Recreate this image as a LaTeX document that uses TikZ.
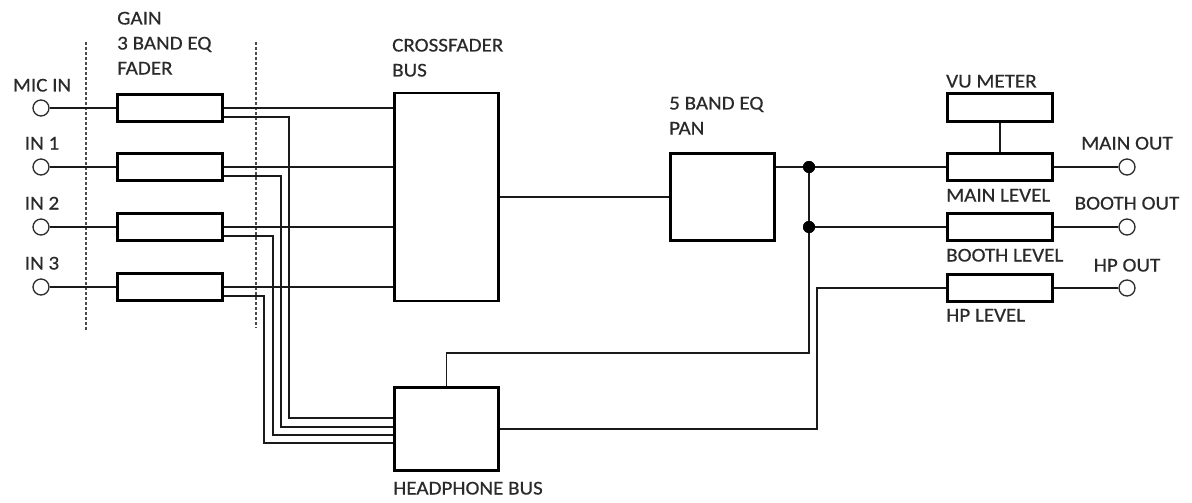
\documentclass[tikz,border=0pt]{standalone}
\usepackage{fontspec}
\setmainfont{Carlito}[FakeStretch=1.08,FakeBold=0.5]
\usetikzlibrary{calc}
\definecolor{txt}{HTML}{2A2A2A}
\definecolor{wire}{HTML}{1A1A1A}
\begin{document}
\begin{tikzpicture}[x=1pt,y=-1pt,
  blk/.style={draw=black,line width=2.8pt,fill=white,inner sep=0pt},
  gainbox/.style={blk,minimum width=105.5pt,minimum height=27.5pt},
  busbox/.style={blk,minimum width=104.5pt},
  lbl/.style={inner sep=0pt,text=txt,font=\fontsize{19.5pt}{23pt}\selectfont},
  wr/.style={draw=wire,line width=1.5pt},
  jack/.style={circle,draw=txt,line width=1.3pt,fill=white,minimum size=16pt,inner sep=0pt},
  jdot/.style={circle,fill=black,minimum size=12pt,inner sep=0pt},
  sep/.style={draw=txt!85,line width=1.4pt,dash pattern=on 3pt off 2pt}
]
\useasboundingbox (0,0) rectangle (1192,503);

% separators
\coordinate (s1a) at (86,42); \coordinate (s1b) at (86,330);
\coordinate (s2a) at (256,42); \coordinate (s2b) at (256,328);
\draw[sep] (s1a) -- (s1b);
\draw[sep] (s2a) -- (s2b);

% input jacks
\node[jack] (jmic) at (41,108) {};
\node[jack] (jin1) at (41,167) {};
\node[jack] (jin2) at (41,227) {};
\node[jack] (jin3) at (41,287) {};
\node[lbl,anchor=base] (lmic) at (42,91.5) {MIC IN};
\node[lbl,anchor=base] (lin1) at (42,149.5) {IN 1};
\node[lbl,anchor=base] (lin2) at (42,209.5) {IN 2};
\node[lbl,anchor=base] (lin3) at (42,269.5) {IN 3};

% gain boxes
\node[gainbox] (g0) at (170,108) {};
\node[gainbox] (g1) at (170,167) {};
\node[gainbox] (g2) at (170,227) {};
\node[gainbox] (g3) at (170,287) {};
\node[lbl,anchor=base west] (lg1) at (117,24.5) {GAIN};
\node[lbl,anchor=base west] (lg2) at (117,49.5) {3 BAND EQ};
\node[lbl,anchor=base west] (lg3) at (117,74.5) {FADER};

% buses
\node[busbox,minimum height=208pt] (cf) at (446.5,197) {};
\node[lbl,anchor=base west] (lcf1) at (392,51.5) {CROSSFADER};
\node[lbl,anchor=base west] (lcf2) at (392,76.5) {BUS};
\node[busbox,minimum height=83pt] (hp) at (446.5,429) {};
\node[lbl,anchor=base west] (lhp) at (393,494.5) {HEADPHONE BUS};

\node[busbox,minimum height=87pt] (eq) at (722.5,197) {};
\node[lbl,anchor=base west] (leq1) at (669,109.5) {5 BAND EQ};
\node[lbl,anchor=base west] (leq2) at (669,134.5) {PAN};

% output section
\node[gainbox] (vu) at (1000,107.5) {};
\node[lbl,anchor=base west] (lvu) at (946,87.5) {VU METER};
\node[gainbox] (ml) at (1000,167) {};
\node[lbl,anchor=base west] (lml) at (946,201.5) {MAIN LEVEL};
\node[gainbox] (bl) at (1000,227) {};
\node[lbl,anchor=base west] (lbl) at (946,261.5) {BOOTH LEVEL};
\node[gainbox] (hl) at (1000,288) {};
\node[lbl,anchor=base west] (lhl) at (946,321.5) {HP LEVEL};

\node[jack] (omain) at (1127,167) {};
\node[jack] (obooth) at (1127,227) {};
\node[jack] (ohp) at (1127,288) {};
\node[lbl,anchor=base] (lomain) at (1127,149.5) {MAIN OUT};
\node[lbl,anchor=base] (lobooth) at (1127,209.5) {BOOTH OUT};
\node[lbl,anchor=base] (lohp) at (1127,271.5) {HP OUT};

% junctions
\node[jdot] (j1) at (809,167) {};
\node[jdot] (j2) at (809,227) {};
\coordinate (jb) at (809,353);
\coordinate (hpr) at (817,429);

% inputs to gain and crossfader
\foreach \j/\g in {jmic/g0,jin1/g1,jin2/g2,jin3/g3}{
  \draw[wr] (\j) -- (\g.west);
  \draw[wr] (\g.east) -- (\g.east -| cf.west);
}
% gain to headphone bus
\draw[wr] ($(g0.east)+(0,9)$) -| ($(hp.west)+(-104,-11)$) -- ($(hp.west)+(0,-11)$);
\draw[wr] ($(g1.east)+(0,9)$) -| ($(hp.west)+(-112,-2)$) -- ($(hp.west)+(0,-2)$);
\draw[wr] ($(g2.east)+(0,9)$) -| ($(hp.west)+(-120,6)$) -- ($(hp.west)+(0,6)$);
\draw[wr] ($(g3.east)+(0,9)$) -| ($(hp.west)+(-129,14)$) -- ($(hp.west)+(0,14)$);

% crossfader to eq and outputs
\draw[wr] (cf.east) -- (eq.west);
\draw[wr] ($(eq.east)+(0,-30)$) -- (j1.center) -- (ml.west);
\draw[wr] (j2.center) -- (bl.west);
\draw[wr] (j1.center) -- (j2.center) -- (jb) -| (hp.north);
\draw[wr] (hp.east) -- (hpr) |- (hl.west);
\draw[wr] (vu.south) -- (ml.north);
\draw[wr] (ml.east) -- (omain.west);
\draw[wr] (bl.east) -- (obooth.west);
\draw[wr] (hl.east) -- (ohp.west);

% dots on top
\node[jdot] at (j1) {};
\node[jdot] at (j2) {};
\end{tikzpicture}
\end{document}
